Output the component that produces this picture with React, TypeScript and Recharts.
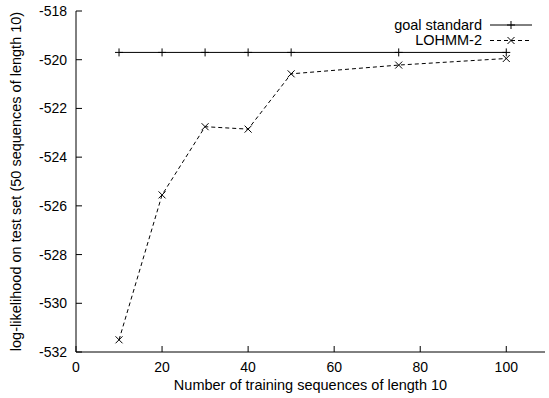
import React from 'react';
import { LineChart, Line, XAxis, YAxis } from 'recharts';

// training set sizes and log-likelihoods
const trainSizes = [10, 20, 30, 40, 50, 75, 100];
const goalStandard = [-519.7, -519.7, -519.7, -519.7, -519.7, -519.7, -519.7];
const lohmm2 = [-531.5, -525.55, -522.75, -522.85, -520.58, -520.22, -519.95];

const xTicks = [0, 20, 40, 60, 80, 100];
const yTicks = [-532, -530, -528, -526, -524, -522, -520, -518];

const data = trainSizes.map((n, i) => ({ n, goal: goalStandard[i], lohmm: lohmm2[i] }));

const FONT = '"Liberation Sans", Arial, Helvetica, sans-serif';

const PlusDot = (props: any) => {
    const { cx, cy } = props;
    if (cx == null || cy == null) return null;
    return (
        <g>
            <line x1={cx - 4} x2={cx + 4} y1={cy} y2={cy} stroke="#000" strokeWidth={1} />
            <line x1={cx} x2={cx} y1={cy - 4} y2={cy + 4} stroke="#000" strokeWidth={1} />
        </g>
    );
};

const CrossDot = (props: any) => {
    const { cx, cy } = props;
    if (cx == null || cy == null) return null;
    return (
        <g>
            <line x1={cx - 3.5} x2={cx + 3.5} y1={cy - 3.5} y2={cy + 3.5} stroke="#000" strokeWidth={1} />
            <line x1={cx - 3.5} x2={cx + 3.5} y1={cy + 3.5} y2={cy - 3.5} stroke="#000" strokeWidth={1} />
        </g>
    );
};

const Key = () => (
    <svg
        width={549}
        height={60}
        style={{ position: 'absolute', left: 0, top: 0, pointerEvents: 'none' }}
    >
        <text x={482} y={30} textAnchor="end" fontSize={14.5} fontFamily={FONT} fill="#000">
            goal standard
        </text>
        <line x1={490} x2={532} y1={25} y2={25} stroke="#000" />
        <PlusDot cx={511} cy={25} />
        <text x={482} y={45} textAnchor="end" fontSize={14.5} fontFamily={FONT} fill="#000">
            LOHMM-2
        </text>
        <line x1={490} x2={532} y1={40.5} y2={40.5} stroke="#000" strokeDasharray="4 3" />
        <CrossDot cx={511} cy={40.5} />
    </svg>
);

const tickStyle = { fontSize: 14, fill: '#000', fontFamily: FONT };

export default function App() {
    return (
        <div style={{ position: 'absolute', left: 0, top: 0, width: 549, height: 398, background: '#fff' }}>
            <LineChart width={549} height={398} data={data} margin={{ top: 11, right: 4, bottom: 0, left: 0 }}>
                <XAxis
                    dataKey="n"
                    type="number"
                    domain={[0, 109]}
                    ticks={xTicks}
                    allowDataOverflow
                    height={46}
                    tickSize={-6}
                    tickMargin={16}
                    stroke="#000"
                    tick={tickStyle}
                    label={({ viewBox }: any) => (
                        <text
                            x={viewBox.x + viewBox.width / 2}
                            y={390}
                            textAnchor="middle"
                            fontSize={14.5}
                            fontFamily={FONT}
                            fill="#000"
                        >
                            Number of training sequences of length 10
                        </text>
                    )}
                />
                <XAxis
                    xAxisId="top"
                    orientation="top"
                    dataKey="n"
                    type="number"
                    domain={[0, 109]}
                    ticks={xTicks}
                    allowDataOverflow
                    height={0}
                    tickSize={-6}
                    tick={false}
                    stroke="#000"
                />
                <YAxis
                    type="number"
                    domain={[-532, -518]}
                    ticks={yTicks}
                    allowDataOverflow
                    width={76}
                    tickSize={-6}
                    tickMargin={15}
                    stroke="#000"
                    tick={tickStyle}
                    label={({ viewBox }: any) => {
                        const cy = viewBox.y + viewBox.height / 2;
                        return (
                            <text
                                x={20.5}
                                y={cy}
                                transform={`rotate(-90, 20.5, ${cy})`}
                                textAnchor="middle"
                                fontSize={14.5}
                                fontFamily={FONT}
                                fill="#000"
                            >
                                log-likelihood on test set (50 sequences of length 10)
                            </text>
                        );
                    }}
                />
                <YAxis
                    yAxisId="right"
                    orientation="right"
                    type="number"
                    domain={[-532, -518]}
                    ticks={yTicks}
                    allowDataOverflow
                    width={0}
                    tickSize={-6}
                    tick={false}
                    stroke="#000"
                />
                <Line
                    dataKey="goal"
                    stroke="#000"
                    strokeWidth={1}
                    dot={<PlusDot />}
                    activeDot={false}
                    isAnimationActive={false}
                />
                <Line
                    dataKey="lohmm"
                    stroke="#000"
                    strokeWidth={1}
                    strokeDasharray="4 3"
                    dot={<CrossDot />}
                    activeDot={false}
                    isAnimationActive={false}
                />
            </LineChart>
            <Key />
        </div>
    );
}
